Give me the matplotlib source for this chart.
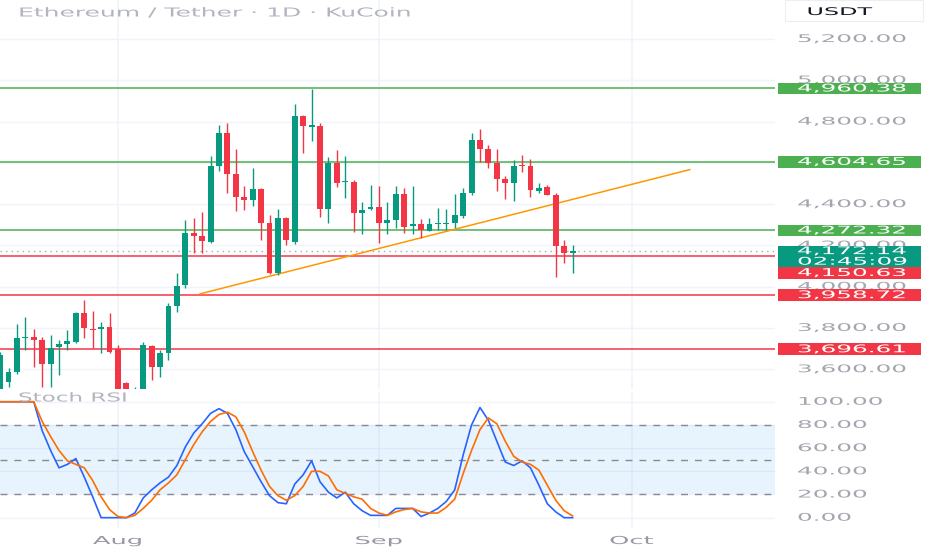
import matplotlib
matplotlib.use("Agg")
import matplotlib.pyplot as plt
import matplotlib.dates as mdates
from matplotlib.patches import Rectangle
from matplotlib.patheffects import AbstractPathEffect
from matplotlib.transforms import Affine2D
import pandas as pd

W, H = 932, 550

# daily candles, ETH/USDT (KuCoin)
dates = pd.date_range("2025-07-18", "2025-09-24", freq="D")
opens = [3490, 3538, 3587, 3751, 3756, 3742, 3625, 3708, 3722, 3732, 3872, 3795, 3795, 3805,
         3698, 3533, 3480, 3490, 3712, 3611, 3679, 3906, 4008, 4260, 4245, 4216, 4585, 4745,
         4546, 4434, 4420, 4473, 4309, 4066, 4333, 4216, 4827, 4775, 4780, 4376, 4599, 4505,
         4507, 4357, 4376, 4386, 4309, 4323, 4449, 4294, 4304, 4270, 4304, 4304, 4309, 4342,
         4454, 4711, 4667, 4599, 4522, 4502, 4590, 4585, 4464, 4483, 4444, 4197, 4165]
highs = [3683, 3606, 3819, 3853, 3795, 3756, 3766, 3742, 3790, 3877, 3935, 3882, 3829, 3872,
         3717, 3540, 3512, 3732, 3717, 3693, 3921, 4066, 4323, 4333, 4362, 4633, 4783, 4793,
         4667, 4488, 4575, 4478, 4347, 4376, 4338, 4885, 4830, 4960, 4793, 4628, 4662, 4633,
         4517, 4410, 4493, 4488, 4410, 4488, 4478, 4488, 4328, 4333, 4381, 4376, 4449, 4478,
         4745, 4764, 4686, 4667, 4536, 4614, 4638, 4619, 4502, 4493, 4454, 4226, 4202]
lows = [3465, 3514, 3577, 3693, 3611, 3514, 3514, 3572, 3693, 3727, 3751, 3703, 3679, 3679,
        3450, 3440, 3430, 3470, 3548, 3562, 3645, 3877, 3995, 4163, 4163, 4210, 4560, 4454,
        4367, 4372, 4391, 4226, 4060, 4057, 4202, 4207, 4648, 4706, 4338, 4309, 4483, 4430,
        4265, 4255, 4372, 4212, 4255, 4284, 4260, 4255, 4236, 4270, 4275, 4275, 4284, 4333,
        4444, 4604, 4575, 4464, 4425, 4415, 4556, 4434, 4454, 4444, 4047, 4115, 4066]
closes = [3669, 3587, 3751, 3756, 3742, 3625, 3703, 3722, 3737, 3872, 3800, 3790, 3805, 3683,
          3480, 3470, 3500, 3717, 3611, 3679, 3906, 4003, 4260, 4245, 4221, 4585, 4745, 4546,
          4434, 4420, 4473, 4309, 4066, 4333, 4226, 4827, 4778, 4780, 4376, 4599, 4502, 4512,
          4357, 4372, 4386, 4309, 4323, 4449, 4289, 4304, 4275, 4304, 4309, 4309, 4347, 4454,
          4711, 4667, 4599, 4522, 4502, 4585, 4585, 4468, 4478, 4444, 4197, 4163, 4172.14]

stoch_k = [100, 100, 100, 100, 100, 75, 58, 43, 46, 51, 35, 18, 0, 0, 0, 0, 4, 17, 24, 30,
           35, 45, 61, 73, 81, 90, 94, 90, 76, 57, 44, 31, 19, 13, 12, 29, 37, 49, 31, 22,
           17, 22, 12, 6, 2, 2, 2, 8, 8, 8, 1, 4, 8, 14, 24, 54, 80, 95, 84, 66, 48, 45, 49,
           43, 28, 12, 5, 0, 0]
stoch_d = [100, 100, 100, 100, 100, 83, 70, 58, 49, 46, 43, 32, 18, 7, 1, 0, 2, 8, 15, 24,
           30, 37, 50, 63, 74, 83, 89, 91, 87, 74, 57, 41, 27, 19, 15, 19, 27, 40, 40, 36,
           24, 21, 18, 16, 8, 4, 2, 5, 7, 8, 5, 4, 4, 9, 16, 38, 58, 76, 86, 81, 66, 53, 48,
           46, 41, 28, 15, 6, 1.5]

levels_up = [4960.38, 4604.65, 4272.32]
levels_down = [4150.63, 3958.72, 3696.61]
last_price = 4172.14
countdown = "02:45:09"
trend_dates = ["2025-08-10 18:00", "2025-10-07 22:00"]
trend_prices = [3965, 4567]
price_ticks = [5200, 5000, 4800, 4600, 4400, 4200, 4000, 3800, 3600]
stoch_ticks = [100, 80, 60, 40, 20, 0]
month_ticks = ["2025-08-01", "2025-09-01", "2025-10-01"]
month_labels = ["Aug", "Sep", "Oct"]

UP = "#089981"
DOWN = "#f23645"
LVL_UP = "#4caf50"
GRID = "#f0f3fa"
LABEL = "#a3a6af"


class Stretch(AbstractPathEffect):
    # draws the text glyphs widened, like the wide font of the screenshot
    def __init__(self, sx):
        super().__init__()
        self.sx = sx

    def draw_path(self, renderer, gc, tpath, affine, rgbFace=None):
        renderer.draw_path(gc, tpath, Affine2D().scale(self.sx, 1) + affine, rgbFace)


def px_rect(x0, y0, x1, y1):
    return [x0 / W, 1 - y1 / H, (x1 - x0) / W, (y1 - y0) / H]


fig = plt.figure(figsize=(W / 100, H / 100), dpi=100)
fig.patch.set_facecolor("white")
R = fig.canvas.get_renderer()

ax = fig.add_axes(px_rect(0, 0, 775, 389))
ax2 = fig.add_axes(px_rect(0, 392, 775, 528))

xs = mdates.date2num(dates)
xlim = (mdates.date2num(pd.Timestamp("2025-07-17 23:45")),
        mdates.date2num(pd.Timestamp("2025-10-18 01:00")))
months = mdates.date2num(pd.to_datetime(month_ticks))

for a in (ax, ax2):
    a.set_xlim(*xlim)
    a.set_xticks([])
    a.set_yticks([])
    for s in a.spines.values():
        s.set_visible(False)
    for m in months:
        a.axvline(m, color=GRID, lw=1.2, zorder=0)

# ---- price pane
ax.set_ylim(3504, 5389)
for p in price_ticks:
    ax.axhline(p, color=GRID, lw=1, zorder=0)

for lv in levels_up:
    ax.axhline(lv, color=LVL_UP, lw=1.1, zorder=1)
for lv in levels_down:
    ax.axhline(lv, color=DOWN, lw=1.1, zorder=1)
ax.axhline(last_price, color="#8fb3ad", lw=1.0, ls=(0, (1, 3)), zorder=1)

ax.plot(mdates.date2num(pd.to_datetime(trend_dates)), trend_prices, color="#ff9800", lw=1.1, zorder=2)

colors = [UP if c >= o else DOWN for o, c in zip(opens, closes)]
ax.vlines(xs, lows, highs, colors=colors, lw=1.0, zorder=3)
bottoms = [min(o, c) for o, c in zip(opens, closes)]
heights = [max(abs(c - o), 6) for o, c in zip(opens, closes)]
ax.bar(xs, heights, bottom=bottoms, width=0.7, color=colors, lw=0, zorder=4)

# ---- stoch rsi pane
ax2.set_ylim(-8.9, 108.4)
for v in stoch_ticks:
    ax2.axhline(v, color=GRID, lw=1, zorder=0)
ax2.axhspan(20, 80, color="#2196f3", alpha=0.1, lw=0, zorder=0)
for v in (80, 50, 20):
    ax2.axhline(v, color="#878a93", lw=1, ls=(0, (5, 5)), zorder=1)
ax2.plot(xs, stoch_k, color="#2962ff", lw=1.2, zorder=2)
ax2.plot(xs, stoch_d, color="#ff6d00", lw=1.2, zorder=3)


# ---- text, right scale, tags
def wide(t, sx=None, width=None, center=False):
    w = t.get_window_extent(R).width
    if width is not None:
        sx = width / w
    t.set_path_effects([Stretch(sx)])
    if center:
        x, y = t.get_position()
        t.set_position((x - w * (sx - 1) / 2 / W, y))
    return t


def ypx(a, v):
    return H - a.transData.transform((0, v))[1]


NUM_SIZE = 7.6
probe = fig.text(0, 0, "5,200.00", fontsize=NUM_SIZE)
SX = 110 / probe.get_window_extent(R).width
probe.remove()


def side(y, s, color, z=2):
    t = fig.text(797 / W, 1 - y / H, s, ha="left", va="center", fontsize=NUM_SIZE, color=color, zorder=z)
    return wide(t, SX)


def tag(y0, y1, color):
    fig.add_artist(Rectangle((778 / W, 1 - y1 / H), 143 / W, (y1 - y0) / H,
                             transform=fig.transFigure, facecolor=color, edgecolor="none", zorder=3))


for p in price_ticks:
    side(ypx(ax, p), f"{p:,.2f}", LABEL, z=1)
for v in stoch_ticks:
    side(ypx(ax2, v), f"{v:.2f}", LABEL, z=1)

for lv in levels_up:
    y = ypx(ax, lv)
    tag(y - 5.8, y + 5.8, LVL_UP)
    side(y, f"{lv:,.2f}", "white", z=4)

y_last = ypx(ax, last_price)
tag(y_last - 5.5, y_last + 16, UP)
side(y_last, f"{last_price:,.2f}", "white", z=4)
side(y_last + 10.5, countdown, "white", z=4)

y_prev = y_last + 16
for lv in levels_down:
    y = max(ypx(ax, lv), y_prev + 5.8)
    tag(y - 5.8, y + 5.8, DOWN)
    side(y, f"{lv:,.2f}", "white", z=4)
    y_prev = y + 5.8

fig.add_artist(Rectangle((785 / W, 1 - 21 / H), 138 / W, 21 / H, transform=fig.transFigure,
                         facecolor="white", edgecolor="#eceef2", lw=0.8, zorder=1))
wide(fig.text(839 / W, 1 - 12 / H, "USDT", ha="center", va="center", fontsize=7.6,
              color="#131722", zorder=2), width=65, center=True)

wide(fig.text(18 / W, 1 - 13 / H, "Ethereum / Tether · 1D · KuCoin", ha="left", va="center",
              fontsize=8.9, color="#b2b5be", zorder=5), width=394)
wide(fig.text(18 / W, 1 - 398 / H, "Stoch RSI", ha="left", va="center",
              fontsize=8.9, color="#b2b5be", zorder=5), width=110)

for m, lab in zip(months, month_labels):
    xc = ax2.transData.transform((m, 0))[0] / W
    wide(fig.text(xc, 1 - 541 / H, lab, ha="center", va="center", fontsize=7.9,
                  color="#9598a1", zorder=5), sx=SX, center=True)

fig.savefig("out.png", dpi=100, facecolor="white")
